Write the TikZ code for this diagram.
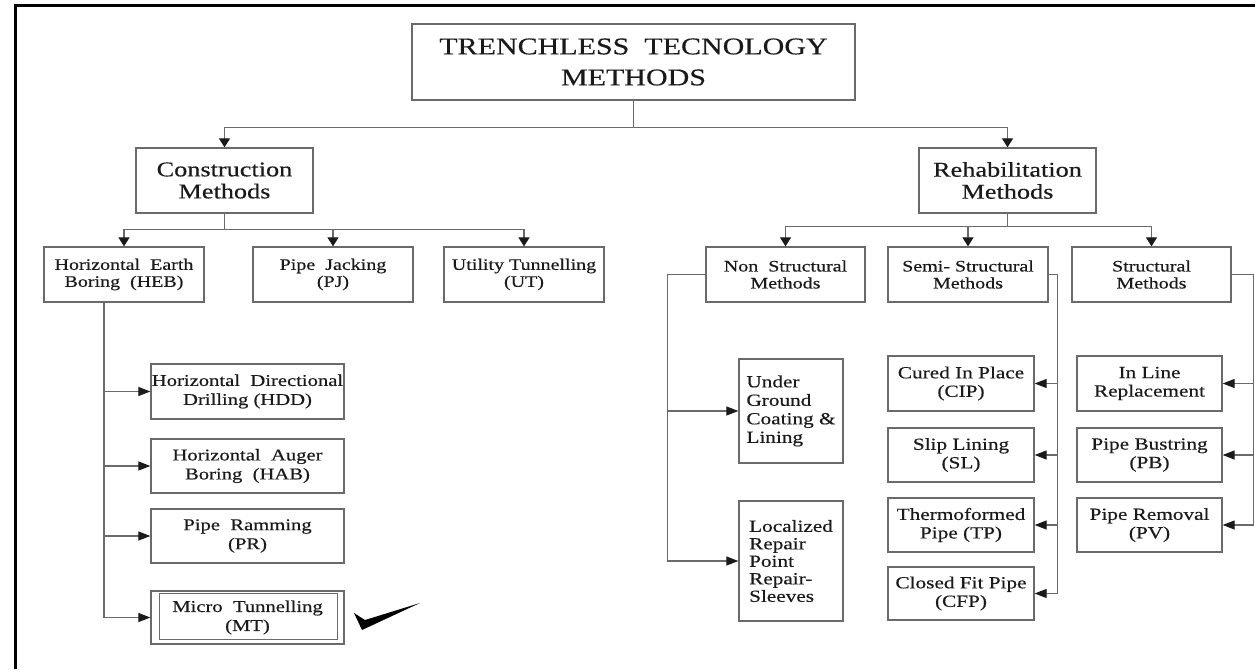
\documentclass[tikz,border=0pt]{standalone}
\usepackage{fontspec}
\setmainfont{Liberation Serif}[FakeStretch=1.25,FakeBold=0.4]
\usetikzlibrary{arrows.meta}
\definecolor{ln}{HTML}{6A6A6A}
\definecolor{tx}{HTML}{1A1A1A}
\begin{document}
\begin{tikzpicture}[x=1pt,y=-1pt,
  bx/.style 2 args={draw=ln, line width=1.3pt, text=tx, inner sep=0pt, align=center,
     minimum width=#1, minimum height=#2},
  tfont/.style={font=\fontsize{24}{31}\selectfont},
  mfont/.style={font=\fontsize{21}{22}\selectfont},
  sfont/.style={font=\fontsize{16}{17}\selectfont},
  lfont/.style={font=\fontsize{16.5}{19}\selectfont},
  rfont/.style={font=\fontsize{17}{18.5}\selectfont},
  conn/.style={draw=ln, line width=1.2pt},
  arr/.style={conn, -{Triangle[length=9pt,width=11pt,fill=tx,color=tx]}},
  harr/.style={conn, -{Triangle[length=12pt,width=9pt,fill=tx,color=tx]}}
]
\useasboundingbox (0,0) rectangle (1255,669);
% frame
\draw[line width=3pt, black] (15,669) -- (15,6) -- (1255,6);

% title
\node[bx={443}{76}, tfont] (title) at (633.5,62) {TRENCHLESS\ \ TECNOLOGY\\METHODS};
% level 1
\node[bx={177}{65}, mfont] (cons) at (224.5,180.5) {Construction\\Methods};
\node[bx={177}{65}, mfont] (rehab) at (1007.5,180.5) {Rehabilitation\\Methods};
% level 2 left
\node[bx={160}{55}, sfont] (heb) at (124,274.5) {Horizontal\ \ Earth\\Boring\ \ (HEB)};
\node[bx={160}{55}, sfont] (pj) at (333,274.5) {Pipe\ \ Jacking\\(PJ)};
\node[bx={160}{55}, sfont] (ut) at (524,274.5) {Utility Tunnelling\\(UT)};
% level 2 right
\node[bx={159}{55}, sfont] (nsm) at (785.5,274.5) {Non\ \ Structural\\Methods};
\node[bx={160}{55}, sfont] (ssm) at (968,274.5) {Semi- Structural\\Methods};
\node[bx={159}{55}, sfont] (stm) at (1151.5,274.5) {Structural\\Methods};
% HEB children
\node[bx={193}{55}, lfont] (hdd) at (247.5,391.5) {Horizontal\ \ Directional\\Drilling (HDD)};
\node[bx={193}{54}, lfont] (hab) at (247.5,466) {Horizontal\ \ Auger\\Boring\ \ (HAB)};
\node[bx={193}{54}, lfont] (pr) at (247.5,536) {Pipe\ \ Ramming\\(PR)};
\node[bx={193}{53}, lfont] (mt) at (247.5,617.5) {Micro\ \ Tunnelling\\(MT)};
\draw[ln, line width=1.3pt] ([shift={(9,3)}]mt.north west) rectangle ([shift={(-7,-5)}]mt.south east);
% check mark
\fill[black] (354,613) -- (365,620) -- (420,603) -- (362,630) -- cycle;
% non structural children
\node[bx={104}{104}, rfont, align=left] (ugcl) at (791,411) {Under\\Ground\\Coating \&\\Lining};
\node[bx={104}{120}, rfont, align=left, font=\fontsize{17}{17.5}\selectfont] (lrpr) at (791,561) {Localized\\Repair\\Point\\Repair-\\Sleeves};
% semi structural children
\node[bx={146}{55}, rfont] (cip) at (961,383.5) {Cured In Place\\(CIP)};
\node[bx={146}{54}, rfont] (sl) at (961,455) {Slip Lining\\(SL)};
\node[bx={146}{54}, rfont] (tp) at (961,525) {Thermoformed\\Pipe (TP)};
\node[bx={146}{53}, rfont] (cfp) at (961,593.5) {Closed Fit Pipe\\(CFP)};
% structural children
\node[bx={145}{55}, rfont] (ilr) at (1149.5,383.5) {In Line\\Replacement};
\node[bx={145}{54}, rfont] (pb) at (1149.5,455) {Pipe Bustring\\(PB)};
\node[bx={145}{54}, rfont] (pv) at (1149.5,525) {Pipe Removal\\(PV)};

% connectors
\draw[conn] (title.south) -- ++(0,27) coordinate (t1);
\draw[arr] (t1) -| (cons.north);
\draw[arr] (t1) -| (rehab.north);

\draw[conn] (cons.south) -- ++(0,16) coordinate (c1);
\draw[arr] (c1) -| (heb.north);
\draw[arr] (c1) -| (pj.north);
\draw[arr] (c1) -| (ut.north);

\draw[conn] (rehab.south) -- ++(0,13) coordinate (r1);
\draw[arr] (r1) -| (nsm.north);
\draw[arr] (r1) -| (ssm.north);
\draw[arr] (r1) -| (stm.north);

\coordinate (h0) at ([xshift=-20pt]heb.south);
\draw[harr] (h0) |- (hdd.west);
\draw[harr] (h0) |- (hab.west);
\draw[harr] (h0) |- (pr.west);
\draw[harr] (h0) |- (mt.west);

\draw[conn] (nsm.west) -- ++(-38,0) coordinate (n1);
\draw[harr] (n1) |- (ugcl.west);
\draw[harr] (n1) |- (lrpr.west);

\draw[conn] (ssm.east) -- ++(9,0) coordinate (s1);
\draw[harr] (s1) |- (cip.east);
\draw[harr] (s1) |- (sl.east);
\draw[harr] (s1) |- (tp.east);
\draw[harr] (s1) |- (cfp.east);

\draw[conn] (stm.east) -- ++(22,0) coordinate (u1);
\draw[harr] (u1) |- (ilr.east);
\draw[harr] (u1) |- (pb.east);
\draw[harr] (u1) |- (pv.east);
\end{tikzpicture}
\end{document}
